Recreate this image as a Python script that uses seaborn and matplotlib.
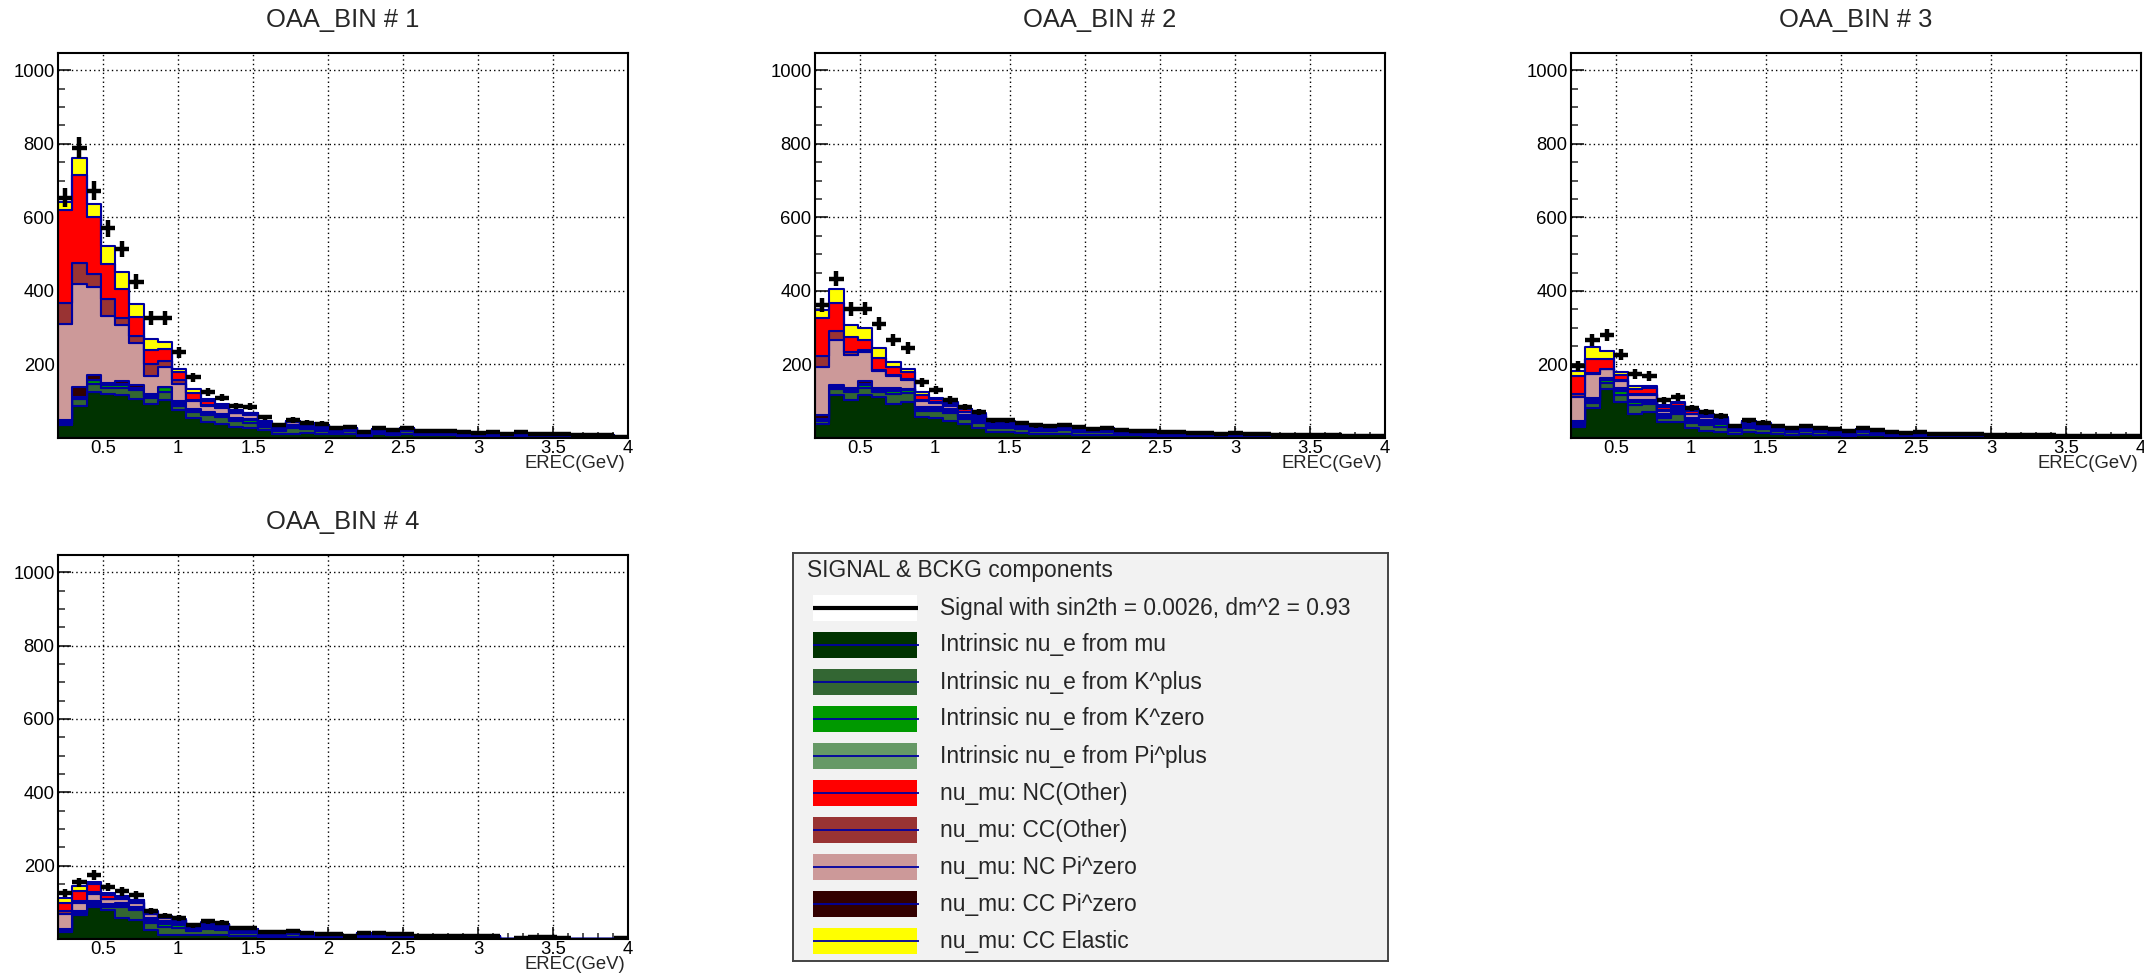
import numpy as np
import pandas as pd
import matplotlib
matplotlib.use("Agg")
import matplotlib.pyplot as plt
from matplotlib.ticker import FixedLocator, FuncFormatter
from matplotlib.patches import Rectangle
import seaborn as sns

# ---------------------------------------------------------------------------
# Stacked background components per off-axis-angle bin (events per EREC bin),
# 40 bins from 0.2 to 4.0 GeV, plus the signal+background expectation.
# ---------------------------------------------------------------------------

# OAA_BIN # 1
NUE_MU_1 = [35, 87, 126, 121, 117, 105, 92, 103, 75, 55, 44, 39, 30, 28, 22, 12, 12, 14, 12, 10,
            12, 6, 10, 8, 10, 7, 7, 8, 5, 4, 5, 4, 5, 4, 3, 3, 3, 3, 3, 0]
NUE_KPLUS_1 = [5, 20, 22, 16, 18, 25, 17, 23, 11, 16, 18, 18, 15, 14, 8, 8, 15, 10, 8, 6,
               6, 4, 7, 6, 8, 6, 6, 5, 4, 4, 4, 3, 4, 3, 3, 3, 2, 2, 2, 0]
NUE_KZERO_1 = [2, 3, 11, 7, 9, 7, 3, 13, 4, 3, 5, 5, 5, 6, 2, 2, 4, 5, 3, 2,
               2, 1, 2, 2, 3, 2, 2, 2, 1, 1, 2, 1, 2, 1, 1, 1, 1, 1, 1, 0]
NUE_PIPLUS_1 = [3, 2, 0, 0, 3, 0, 3, 0, 4, 3, 2, 2, 3, 3, 3, 3, 3, 3, 3, 2,
                3, 2, 3, 2, 3, 2, 2, 2, 2, 2, 2, 1, 2, 1, 1, 1, 1, 1, 1, 0]
NUMU_CCPI0_1 = [3, 27, 12, 6, 8, 7, 6, 0, 6, 3, 2, 2, 2, 2, 1, 1, 1, 1, 1, 1,
                1, 0, 0, 0, 0, 0, 0, 0, 0, 0, 0, 0, 0, 0, 0, 0, 0, 0, 0, 0]
NUMU_NCPI0_1 = [261, 280, 239, 182, 152, 113, 47, 55, 48, 20, 16, 16, 12, 10, 4, 5, 8, 4, 6, 2,
                3, 2, 2, 2, 2, 1, 2, 1, 1, 1, 1, 1, 1, 1, 1, 1, 1, 1, 0, 0]
NUMU_CCOTHER_1 = [59, 56, 36, 45, 20, 20, 32, 15, 9, 3, 2, 2, 2, 1, 1, 1, 1, 1, 1, 0,
                  0, 0, 0, 0, 0, 0, 0, 0, 0, 0, 0, 0, 0, 0, 0, 0, 0, 0, 0, 0]
NUMU_NCOTHER_1 = [252, 240, 154, 96, 77, 53, 39, 33, 23, 20, 12, 6, 5, 4, 3, 3, 2, 1, 1, 1,
                  1, 0, 1, 1, 1, 1, 0, 1, 1, 0, 0, 0, 0, 0, 0, 0, 0, 0, 0, 0]
NUMU_CCEL_1 = [23, 46, 36, 49, 48, 34, 31, 18, 9, 9, 6, 2, 2, 1, 1, 1, 1, 1, 1, 1,
               0, 0, 0, 0, 0, 0, 0, 0, 0, 0, 0, 0, 0, 0, 0, 0, 0, 0, 0, 0]
SIGNAL_1 = [654, 790, 672, 570, 514, 425, 326, 326, 233, 165, 126, 110, 87, 85, 56, 36, 49, 42, 39, 26,
            30, 16, 27, 23, 28, 20, 20, 20, 15, 13, 15, 11, 15, 11, 10, 10, 9, 9, 8, 4]

# OAA_BIN # 2
NUE_MU_2 = [39, 117, 103, 117, 112, 92, 99, 57, 54, 45, 37, 28, 17, 17, 14, 11, 10, 11, 9, 8,
            9, 7, 7, 6, 5, 6, 5, 4, 4, 4, 3, 4, 3, 3, 3, 2, 2, 2, 2, 2]
NUE_KPLUS_2 = [8, 17, 22, 20, 13, 28, 24, 17, 20, 22, 14, 14, 11, 11, 10, 9, 9, 10, 8, 7,
               8, 6, 5, 5, 5, 5, 4, 4, 3, 4, 3, 3, 2, 2, 3, 2, 2, 2, 2, 1]
NUE_KZERO_2 = [3, 5, 6, 8, 6, 8, 7, 5, 4, 6, 5, 5, 4, 4, 4, 3, 3, 3, 3, 3,
               3, 2, 2, 2, 1, 2, 1, 1, 1, 1, 1, 1, 1, 1, 1, 1, 1, 0, 0, 0]
NUE_PIPLUS_2 = [3, 3, 2, 3, 2, 4, 2, 4, 4, 5, 5, 5, 4, 4, 4, 3, 3, 4, 3, 3,
                3, 2, 2, 2, 2, 2, 2, 2, 2, 2, 1, 1, 1, 1, 1, 1, 1, 1, 1, 1]
NUMU_CCPI0_2 = [10, 3, 2, 7, 2, 3, 2, 2, 2, 2, 2, 2, 1, 1, 1, 1, 1, 1, 0, 0,
                0, 0, 0, 0, 0, 0, 0, 0, 0, 0, 0, 0, 0, 0, 0, 0, 0, 0, 0, 0]
NUMU_NCPI0_2 = [130, 121, 92, 80, 47, 33, 25, 16, 12, 8, 8, 6, 4, 4, 4, 3, 3, 3, 3, 2,
                2, 2, 2, 1, 1, 1, 1, 1, 1, 1, 1, 1, 1, 0, 0, 0, 0, 0, 0, 0]
NUMU_CCOTHER_2 = [31, 24, 6, 5, 3, 2, 2, 2, 2, 1, 1, 1, 1, 1, 0, 0, 0, 0, 0, 0,
                  0, 0, 0, 0, 0, 0, 0, 0, 0, 0, 0, 0, 0, 0, 0, 0, 0, 0, 0, 0]
NUMU_NCOTHER_2 = [103, 78, 41, 27, 33, 23, 18, 14, 7, 7, 6, 5, 2, 2, 2, 2, 1, 1, 1, 1,
                  1, 1, 1, 1, 1, 0, 0, 0, 0, 0, 0, 0, 0, 0, 0, 0, 0, 0, 0, 0]
NUMU_CCEL_2 = [20, 36, 34, 31, 28, 13, 9, 8, 3, 3, 2, 2, 1, 1, 0, 0, 0, 0, 0, 0,
               0, 0, 0, 0, 0, 0, 0, 0, 0, 0, 0, 0, 0, 0, 0, 0, 0, 0, 0, 0]
SIGNAL_2 = [363, 433, 350, 352, 311, 266, 245, 152, 130, 103, 84, 71, 48, 48, 41, 34, 32, 35, 29, 25,
            27, 21, 20, 18, 16, 17, 14, 13, 12, 13, 10, 11, 9, 8, 9, 7, 7, 6, 6, 5]

# OAA_BIN # 3
NUE_MU_3 = [29, 82, 132, 98, 66, 70, 43, 43, 27, 20, 17, 12, 16, 14, 10, 9, 10, 8, 7, 6,
            8, 7, 5, 4, 5, 4, 3, 3, 3, 3, 2, 3, 2, 2, 2, 2, 2, 1, 2, 1]
NUE_KPLUS_3 = [6, 14, 18, 18, 23, 22, 12, 22, 14, 14, 12, 8, 12, 11, 9, 8, 9, 8, 7, 6,
               7, 6, 5, 4, 4, 3, 3, 3, 3, 2, 2, 2, 2, 2, 2, 1, 1, 1, 1, 1]
NUE_KZERO_3 = [3, 5, 8, 12, 8, 6, 5, 6, 6, 8, 8, 3, 5, 4, 3, 3, 3, 3, 2, 2,
               3, 2, 2, 2, 2, 1, 1, 1, 1, 1, 1, 1, 1, 1, 0, 1, 0, 1, 0, 0]
NUE_PIPLUS_3 = [2, 3, 3, 4, 4, 4, 4, 5, 5, 5, 5, 3, 5, 4, 3, 3, 3, 3, 3, 2,
                3, 2, 2, 2, 2, 2, 2, 1, 2, 1, 1, 1, 1, 1, 1, 1, 1, 1, 1, 1]
NUMU_CCPI0_3 = [7, 6, 3, 3, 2, 2, 2, 2, 2, 2, 2, 1, 1, 1, 1, 0, 1, 0, 0, 0,
                0, 0, 0, 0, 0, 0, 0, 0, 0, 0, 0, 0, 0, 0, 0, 0, 0, 0, 0, 0]
NUMU_NCPI0_3 = [64, 64, 23, 20, 14, 13, 8, 7, 10, 7, 6, 2, 4, 4, 3, 2, 3, 2, 2, 1,
                2, 2, 1, 1, 1, 1, 1, 1, 1, 1, 1, 1, 0, 0, 0, 0, 0, 0, 0, 0]
NUMU_CCOTHER_3 = [8, 3, 2, 3, 3, 3, 2, 2, 2, 1, 1, 0, 0, 0, 0, 0, 0, 0, 0, 0,
                  0, 0, 0, 0, 0, 0, 0, 0, 0, 0, 0, 0, 0, 0, 0, 0, 0, 0, 0, 0]
NUMU_NCOTHER_3 = [49, 39, 27, 14, 14, 15, 9, 8, 8, 5, 4, 1, 2, 1, 1, 1, 1, 1, 1, 1,
                  1, 1, 1, 0, 0, 0, 0, 0, 0, 0, 0, 0, 0, 0, 0, 0, 0, 0, 0, 0]
NUMU_CCEL_3 = [15, 32, 21, 8, 7, 6, 4, 3, 5, 4, 2, 1, 1, 1, 0, 0, 0, 0, 0, 0,
               0, 0, 0, 0, 0, 0, 0, 0, 0, 0, 0, 0, 0, 0, 0, 0, 0, 0, 0, 0]
SIGNAL_3 = [195, 267, 280, 226, 174, 168, 102, 111, 82, 70, 60, 33, 48, 42, 32, 28, 32, 27, 24, 20,
            26, 22, 17, 14, 15, 12, 11, 10, 11, 9, 8, 9, 7, 7, 6, 6, 5, 5, 5, 6]

# OAA_BIN # 4
NUE_MU_4 = [18, 66, 87, 80, 57, 51, 25, 12, 12, 12, 12, 11, 7, 7, 5, 5, 6, 4, 3, 3,
            2, 4, 4, 3, 3, 2, 2, 2, 2, 2, 2, 0, 0, 2, 2, 0, 0, 0, 0, 0]
NUE_KPLUS_4 = [4, 5, 6, 8, 30, 28, 18, 20, 18, 10, 14, 13, 9, 9, 6, 6, 7, 5, 4, 4,
               2, 5, 5, 4, 4, 2, 2, 2, 2, 2, 2, 0, 0, 1, 1, 0, 0, 0, 0, 0]
NUE_KZERO_4 = [2, 2, 6, 4, 5, 3, 7, 8, 8, 3, 6, 6, 3, 3, 2, 2, 2, 2, 1, 1,
               1, 2, 2, 1, 1, 1, 1, 1, 1, 1, 1, 0, 0, 1, 1, 0, 0, 0, 0, 0]
NUE_PIPLUS_4 = [1, 2, 2, 2, 3, 2, 4, 5, 5, 4, 5, 5, 3, 3, 2, 2, 3, 2, 2, 2,
                1, 2, 2, 2, 2, 1, 1, 1, 1, 1, 1, 0, 0, 1, 1, 0, 0, 0, 0, 0]
NUMU_CCPI0_4 = [2, 2, 3, 2, 2, 2, 3, 3, 3, 2, 2, 2, 1, 1, 1, 1, 1, 0, 0, 0,
                0, 0, 0, 0, 0, 0, 0, 0, 0, 0, 0, 0, 0, 0, 0, 0, 0, 0, 0, 0]
NUMU_NCPI0_4 = [42, 22, 18, 12, 12, 12, 10, 8, 5, 2, 3, 3, 2, 2, 1, 1, 1, 1, 1, 1,
                1, 1, 1, 1, 1, 1, 1, 1, 1, 1, 1, 0, 0, 0, 0, 0, 0, 0, 0, 0]
NUMU_CCOTHER_4 = [6, 5, 6, 2, 2, 2, 2, 1, 0, 0, 0, 0, 0, 0, 0, 0, 0, 0, 0, 0,
                  0, 0, 0, 0, 0, 0, 0, 0, 0, 0, 0, 0, 0, 0, 0, 0, 0, 0, 0, 0]
NUMU_NCOTHER_4 = [23, 26, 22, 10, 5, 5, 4, 3, 2, 1, 2, 1, 1, 1, 1, 1, 1, 1, 1, 1,
                  0, 1, 1, 1, 1, 0, 0, 0, 0, 0, 0, 0, 0, 0, 0, 0, 0, 0, 0, 0]
NUMU_CCEL_4 = [14, 14, 5, 5, 2, 2, 2, 2, 2, 1, 1, 1, 1, 1, 0, 0, 0, 0, 0, 0,
               0, 0, 0, 0, 0, 0, 0, 0, 0, 0, 0, 0, 0, 0, 0, 0, 0, 0, 0, 0]
SIGNAL_4 = [125, 155, 175, 142, 130, 121, 77, 64, 57, 37, 48, 44, 29, 29, 20, 20, 23, 17, 14, 14,
            8, 17, 17, 14, 14, 8, 8, 8, 8, 8, 8, 0, 3, 6, 6, 3, 0, 0, 0, 3]

PANEL_TITLES = ["OAA_BIN # 1", "OAA_BIN # 2", "OAA_BIN # 3", "OAA_BIN # 4"]
X_TICKS = [0.5, 1, 1.5, 2, 2.5, 3, 3.5, 4]
Y_TICKS = [200, 400, 600, 800, 1000]

SIGNAL_LABEL = "Signal with sin2th = 0.0026, dm^2 = 0.93"
COMPONENT_LABELS = [
    "Intrinsic nu_e from mu",
    "Intrinsic nu_e from K^plus",
    "Intrinsic nu_e from K^zero",
    "Intrinsic nu_e from Pi^plus",
    "nu_mu: NC(Other)",
    "nu_mu: CC(Other)",
    "nu_mu: NC Pi^zero",
    "nu_mu: CC Pi^zero",
    "nu_mu: CC Elastic",
]
COMPONENT_COLORS = {
    "Intrinsic nu_e from mu": "#003300",
    "Intrinsic nu_e from K^plus": "#336633",
    "Intrinsic nu_e from K^zero": "#009900",
    "Intrinsic nu_e from Pi^plus": "#669966",
    "nu_mu: NC(Other)": "#ff0000",
    "nu_mu: CC(Other)": "#993333",
    "nu_mu: NC Pi^zero": "#cc9999",
    "nu_mu: CC Pi^zero": "#330000",
    "nu_mu: CC Elastic": "#ffff00",
}
# stacking order, bottom to top
STACK_ORDER = [
    "Intrinsic nu_e from mu",
    "Intrinsic nu_e from K^plus",
    "Intrinsic nu_e from K^zero",
    "Intrinsic nu_e from Pi^plus",
    "nu_mu: CC Pi^zero",
    "nu_mu: NC Pi^zero",
    "nu_mu: CC(Other)",
    "nu_mu: NC(Other)",
    "nu_mu: CC Elastic",
]

PANELS = [
    dict(zip(STACK_ORDER, [NUE_MU_1, NUE_KPLUS_1, NUE_KZERO_1, NUE_PIPLUS_1, NUMU_CCPI0_1,
                           NUMU_NCPI0_1, NUMU_CCOTHER_1, NUMU_NCOTHER_1, NUMU_CCEL_1])),
    dict(zip(STACK_ORDER, [NUE_MU_2, NUE_KPLUS_2, NUE_KZERO_2, NUE_PIPLUS_2, NUMU_CCPI0_2,
                           NUMU_NCPI0_2, NUMU_CCOTHER_2, NUMU_NCOTHER_2, NUMU_CCEL_2])),
    dict(zip(STACK_ORDER, [NUE_MU_3, NUE_KPLUS_3, NUE_KZERO_3, NUE_PIPLUS_3, NUMU_CCPI0_3,
                           NUMU_NCPI0_3, NUMU_CCOTHER_3, NUMU_NCOTHER_3, NUMU_CCEL_3])),
    dict(zip(STACK_ORDER, [NUE_MU_4, NUE_KPLUS_4, NUE_KZERO_4, NUE_PIPLUS_4, NUMU_CCPI0_4,
                           NUMU_NCPI0_4, NUMU_CCOTHER_4, NUMU_NCOTHER_4, NUMU_CCEL_4])),
]
SIGNALS = [SIGNAL_1, SIGNAL_2, SIGNAL_3, SIGNAL_4]

EDGES = [round(0.2 + 0.095 * k, 4) for k in range(41)]
CENTERS = np.array([0.5 * (a + b) for a, b in zip(EDGES[:-1], EDGES[1:])])
HALF_WIDTH = 0.5 * (EDGES[1] - EDGES[0])

LINE_BLUE = "#0000a0"

sns.set_style("white")
plt.rcParams["font.family"] = ["Liberation Sans", "DejaVu Sans"]

W, H = 2144, 973
fig = plt.figure(figsize=(W / 100, H / 100), dpi=100)


def axes_px(left, top, right, bottom):
    return fig.add_axes([left / W, 1 - bottom / H, (right - left) / W, (bottom - top) / H])


# (left, top, right, bottom) of each frame, title y, in pixels
FRAMES = [(58, 53, 628, 438, 20), (815, 53, 1385, 438, 20),
          (1571, 53, 2141, 438, 20), (58, 555, 628, 939, 522)]

fmt = FuncFormatter(lambda v, p: f"{v:g}")

for frame, comps, signal, title in zip(FRAMES, PANELS, SIGNALS, PANEL_TITLES):
    left, top, right, bottom, ty = frame
    ax = axes_px(left, top, right, bottom)

    long_rows = []
    for name in STACK_ORDER:
        for c, v in zip(CENTERS, comps[name]):
            long_rows.append((c, v, name))
    df = pd.DataFrame(long_rows, columns=["erec", "events", "component"])

    # seaborn stacks the last hue level at the bottom
    sns.histplot(data=df, x="erec", weights="events", hue="component",
                 hue_order=STACK_ORDER[::-1], palette=COMPONENT_COLORS,
                 multiple="stack", bins=EDGES, element="step", fill=True,
                 alpha=1, edgecolor=LINE_BLUE, linewidth=1.5, legend=False, ax=ax)

    sig = np.asarray(signal, dtype=float)
    keep = sig > 0
    ax.errorbar(CENTERS[keep], sig[keep], xerr=HALF_WIDTH, yerr=np.sqrt(sig[keep]),
                fmt="none", ecolor="black", elinewidth=3.2, capsize=0, zorder=5)

    ax.set_xlim(0.2, 4.0)
    ax.set_ylim(0, 1047)
    ax.set_xlabel("")
    ax.set_ylabel("")

    # dotted grid behind the stack
    for xv in X_TICKS[:-1]:
        ax.axvline(xv, color="black", linestyle=(0, (1, 2.2)), linewidth=1.0, zorder=0.4)
    for yv in Y_TICKS:
        ax.axhline(yv, color="black", linestyle=(0, (1, 2.2)), linewidth=1.0, zorder=0.4)

    ax.xaxis.set_major_locator(FixedLocator(X_TICKS))
    ax.xaxis.set_minor_locator(FixedLocator(np.round(np.arange(0.3, 4.0, 0.1), 2)))
    ax.yaxis.set_major_locator(FixedLocator(Y_TICKS))
    ax.yaxis.set_minor_locator(FixedLocator(np.arange(50, 1047, 50)))
    ax.xaxis.set_major_formatter(fmt)
    ax.yaxis.set_major_formatter(fmt)

    ax.tick_params(axis="x", which="major", direction="in", length=8.3, width=1.1,
                   top=False, bottom=True, labelsize=13.3, pad=1.5, colors="black")
    ax.tick_params(axis="x", which="minor", direction="in", length=4.3, width=1.1,
                   top=False, bottom=True)
    ax.tick_params(axis="y", which="major", direction="in", length=9.4, width=1.1,
                   right=False, left=True, labelsize=13.3, pad=2.5, colors="black")
    ax.tick_params(axis="y", which="minor", direction="in", length=5.0, width=1.1,
                   right=False, left=True)
    for s in ax.spines.values():
        s.set_color("black")
        s.set_linewidth(1.5)
        s.set_zorder(6)

    ax.annotate("EREC(GeV)", xy=(1, 0), xycoords="axes fraction", xytext=(-2, -18.5),
                textcoords="offset points", ha="right", va="center", fontsize=13.3)

    fig.text((left + right) / 2 / W, 1 - ty / H, title, ha="center", va="center",
             fontsize=18.4)

# legend box
LX0, LY0, LX1, LY1 = 793, 553, 1388, 961
lax = axes_px(LX0, LY0, LX1, LY1)
lax.set_xlim(LX0, LX1)
lax.set_ylim(LY1, LY0)
lax.set_xticks([])
lax.set_yticks([])
lax.set_facecolor("#f2f2f2")
for s in lax.spines.values():
    s.set_color("#444444")
    s.set_linewidth(1.4)

lax.text(807, 571, "SIGNAL & BCKG components", ha="left", va="center", fontsize=16.4)

entries = [(SIGNAL_LABEL, "white")] + [(lab, COMPONENT_COLORS[lab]) for lab in COMPONENT_LABELS]
for i, (lab, col) in enumerate(entries):
    yc = 608 + 37.0 * i
    lax.add_patch(Rectangle((813, yc - 13), 104, 26, facecolor=col, edgecolor="none"))
    if i == 0:
        lax.plot([813, 918], [yc, yc], color="black", linewidth=3.0, solid_capstyle="butt")
    else:
        lax.plot([813, 919], [yc, yc], color=LINE_BLUE, linewidth=1.3, solid_capstyle="butt")
    lax.text(940, yc, lab, ha="left", va="center", fontsize=16.4)

fig.savefig("out.png", dpi=100)
